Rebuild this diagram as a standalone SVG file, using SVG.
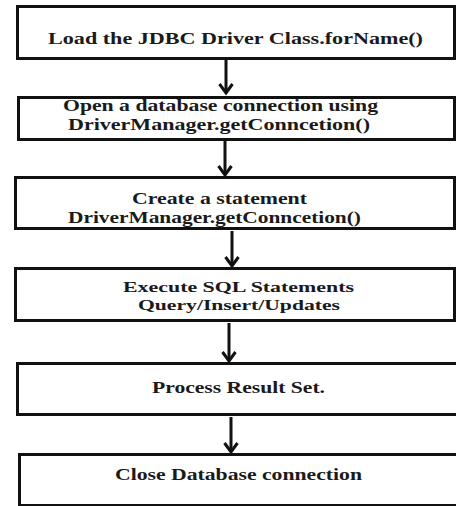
<svg xmlns="http://www.w3.org/2000/svg" width="456" height="506" viewBox="0 0 456 506">
  <style>
    .box { fill: #ffffff; stroke: #111111; stroke-width: 3; }
    .lbl { font-family: "Liberation Serif", "Times New Roman", serif; font-weight: bold; font-size: 16.5px; fill: #1a1a1a; }
    .tight { font-size: 15.5px; }
    .shaft { stroke: #111111; stroke-width: 3; fill: none; }
    .head { stroke: #111111; stroke-width: 3; fill: none; stroke-linejoin: miter; }
  </style>
  <rect width="456" height="506" fill="#ffffff"/>

  <g id="load-driver">
    <rect class="box" x="17.5" y="6.5" width="437" height="52"/>
    <text class="lbl" x="48" y="44" textLength="375" lengthAdjust="spacingAndGlyphs">Load the JDBC Driver Class.forName()</text>
  </g>

  <g id="open-connection">
    <rect class="box" x="18.5" y="97.5" width="436" height="42"/>
    <text class="lbl" x="63" y="111" textLength="315" lengthAdjust="spacingAndGlyphs">Open a database connection using</text>
    <text class="lbl" x="68" y="130" textLength="302" lengthAdjust="spacingAndGlyphs">DriverManager.getConncetion()</text>
  </g>

  <g id="create-statement">
    <rect class="box" x="15.5" y="177.5" width="439" height="51"/>
    <text class="lbl" x="132" y="204" textLength="175" lengthAdjust="spacingAndGlyphs">Create a statement</text>
    <text class="lbl" x="68" y="223" textLength="293" lengthAdjust="spacingAndGlyphs">DriverManager.getConncetion()</text>
  </g>

  <g id="execute-sql">
    <rect class="box" x="15.5" y="268.5" width="439" height="52"/>
    <text class="lbl tight" x="123" y="292" textLength="231" lengthAdjust="spacingAndGlyphs">Execute SQL Statements</text>
    <text class="lbl tight" x="138" y="310" textLength="202" lengthAdjust="spacingAndGlyphs">Query/Insert/Updates</text>
  </g>

  <g id="process-result">
    <rect class="box" x="17.5" y="363.5" width="445" height="51"/>
    <text class="lbl" x="152" y="393" textLength="173" lengthAdjust="spacingAndGlyphs">Process Result Set.</text>
  </g>

  <g id="close-connection">
    <rect class="box" x="19.5" y="454.5" width="445" height="51"/>
    <text class="lbl" x="115" y="480" textLength="247" lengthAdjust="spacingAndGlyphs">Close Database connection</text>
  </g>

  <g id="connectors">
    <line class="shaft" x1="226" y1="60" x2="226" y2="93"/>
    <polyline class="head" points="219.5,84 226,93 232.5,84"/>

    <line class="shaft" x1="225" y1="141" x2="225" y2="175"/>
    <polyline class="head" points="218.5,166 225,175 231.5,166"/>

    <line class="shaft" x1="232" y1="231" x2="232" y2="266"/>
    <polyline class="head" points="225.5,257 232,266 238.5,257"/>

    <line class="shaft" x1="229" y1="323" x2="229" y2="361"/>
    <polyline class="head" points="222.5,352 229,361 235.5,352"/>

    <line class="shaft" x1="231" y1="417" x2="231" y2="452"/>
    <polyline class="head" points="224.5,443 231,452 237.5,443"/>
  </g>
</svg>
